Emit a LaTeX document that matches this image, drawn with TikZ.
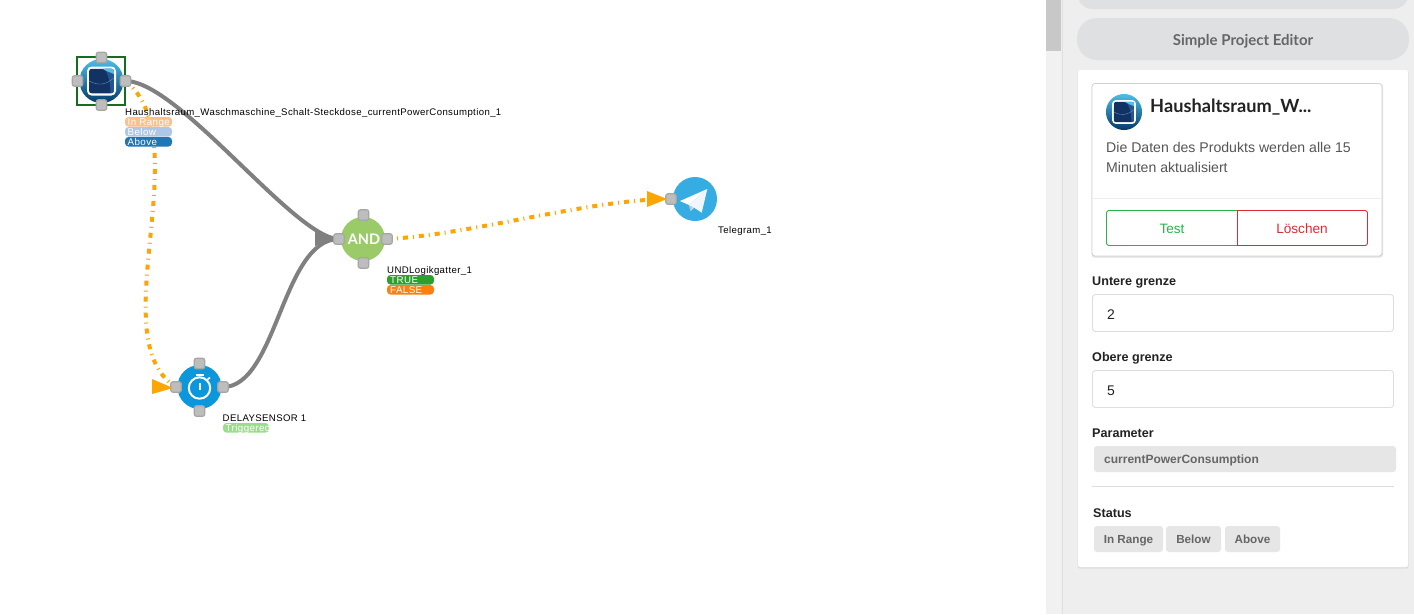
\documentclass[tikz,border=0pt]{standalone}
\usepackage{fontspec}
\setmainfont{Liberation Sans}
\newfontfamily\latofont{Lato}
\usetikzlibrary{arrows.meta}
\pgfdeclarelayer{bg}
\pgfdeclarelayer{edges}
\pgfsetlayers{bg,edges,main}
\definecolor{edgegray}{HTML}{808080}
\definecolor{edgeorange}{HTML}{FFA500}
\definecolor{portfill}{HTML}{BDBDBD}
\definecolor{portline}{HTML}{A6A6A6}
\definecolor{panelbg}{HTML}{EEEEEE}
\definecolor{pillbg}{HTML}{DFE0E2}
\definecolor{chipbg}{HTML}{E6E6E6}
\definecolor{chiptxt}{HTML}{666666}
\definecolor{okgreen}{HTML}{28B44A}
\definecolor{badred}{HTML}{DC2A36}
\definecolor{lineg}{HTML}{DEDEDE}
\definecolor{darktxt}{HTML}{222222}
\definecolor{bodytxt}{HTML}{555555}
\definecolor{catOrangeL}{HTML}{FDBF8B}
\definecolor{catBlueL}{HTML}{AEC7E8}
\definecolor{catBlue}{HTML}{1F77B4}
\definecolor{catGreenL}{HTML}{98DF8A}
\definecolor{catGreen}{HTML}{2CA02C}
\definecolor{catOrange}{HTML}{FF7F0E}
\definecolor{iconTop}{HTML}{4CBEE8}
\definecolor{iconMid}{HTML}{0B6A9E}
\definecolor{iconLow}{HTML}{043A6A}
\definecolor{iconInk}{HTML}{123264}
\definecolor{iconWedge}{HTML}{235590}
\definecolor{iconSky}{HTML}{55BEE6}
\tikzset{
  port/.style={rectangle,rounded corners=2.2pt,minimum size=10.5pt,inner sep=0pt,fill=portfill,draw=portline,line width=1.2pt},
  txt/.style={inner sep=0pt,anchor=base west},
  ctxt/.style={inner sep=0pt,anchor=base},
  tinylabel/.style={txt,font=\fontsize{9.6}{11}\selectfont\addfontfeature{LetterSpace=4},text=black},
  badgetxt/.style={txt,font=\fontsize{9.8}{11}\selectfont\addfontfeature{LetterSpace=4},text=white},
  fieldlabel/.style={txt,font=\fontsize{12.6}{15}\selectfont\bfseries,text=darktxt},
  fieldval/.style={txt,font=\fontsize{14}{16}\selectfont,text=darktxt},
  chiptext/.style={ctxt,font=\fontsize{11.7}{14}\selectfont\bfseries,text=chiptxt},
  grayedge/.style={draw=edgegray,line width=4pt},
  orangeedge/.style={draw=edgeorange,line width=4pt,dash pattern=on 5pt off 5pt on 1pt off 5pt},
  field/.style={draw=lineg,fill=white,line width=.9pt,rounded corners=3pt},
  chip/.style={fill=chipbg,rounded corners=3pt},
}
\newcommand{\prodicon}[4]{%
\begin{scope}[shift={(#1,#2)},scale=#3]
  \shade[top color=iconTop,middle color=iconMid,bottom color=iconLow] (0,0) circle (22);
  \fill[white,rounded corners=#4*4.5pt] (-14.5,-14.5) rectangle (14.5,14.5);
  \begin{scope}
    \clip[rounded corners=#4*2.5pt] (-12.3,-12.3) rectangle (12.3,12.3);
    \fill[iconInk] (-12.3,-12.3) rectangle (12.3,12.3);
    \fill[iconWedge] (-12.3,-12.3) -- (3,-12.3) .. controls (8,-4) and (9,4) .. (9,12.3) -- (12.3,12.3) -- (12.3,-12.3) -- cycle;
    \fill[iconInk] (-12.3,-6) .. controls (-4,-5) and (3,-3) .. (9,12.3) -- (-12.3,12.3) -- cycle;
    \fill[iconSky] (1,-12.3) -- (12.3,-12.3) -- (12.3,-7) .. controls (8,-9) and (4,-10) .. (1,-12.3) -- cycle;
    \draw[color={rgb,255:red,120;green,160;blue,200},line width=.3pt] (-12.3,0) .. controls (-3,5) and (4,4) .. (12.3,-3);
  \end{scope}
\end{scope}}
\begin{document}
\begin{tikzpicture}[x=1pt,y=-1pt]
\useasboundingbox (0,0) rectangle (1414,614);
% ---------- page regions
\begin{pgfonlayer}{bg}
\fill[white] (0,0) rectangle (1046,614);
\end{pgfonlayer}
\fill[color={rgb,255:red,241;green,241;blue,241}] (1046,0) rectangle (1061,614);
\fill[color={rgb,255:red,200;green,200;blue,200}] (1046,0) rectangle (1061,51);
\fill[panelbg] (1061,0) rectangle (1414,614);
\draw[color={rgb,255:red,224;green,224;blue,224},line width=1pt] (1062.5,0) -- (1062.5,614);
% ---------- sensor
\draw[color={rgb,255:red,20;green,110;blue,30},line width=1.4pt] (77,57) rectangle (125,105);
\prodicon{101.5}{81}{1}{1}
\node[port] (sT) at (101.5,57.5) {};
\node[port] (sL) at (77.5,81) {};
\node[port] (sR) at (125.5,81) {};
\node[port] (sB) at (101.5,105) {};
\node[tinylabel] (sLabel) at (125,115) {Haushaltsraum\_Waschmaschine\_Schalt-Steckdose\_currentPowerConsumption\_1};
\fill[catOrangeL,rounded corners=3.5pt] (125,117) rectangle (172,126.5);
\fill[catBlueL,rounded corners=3.5pt] (125,127) rectangle (172,136.5);
\fill[catBlue,rounded corners=3.5pt] (125,137) rectangle (172,146.5);
\node[badgetxt] (b1) at (127.5,125) {In Range};
\node[badgetxt] (b2) at (127.5,135) {Below};
\node[badgetxt] (b3) at (127.5,145) {Above};
% ---------- delay sensor
\fill[color={rgb,255:red,12;green,150;blue,220}] (199.5,387) circle (22);
\draw[white,line width=2pt] (199.5,388) circle (10.7);
\draw[white,line width=2pt] (195.5,374.5) -- (204,374.5);
\draw[white,line width=2pt] (199.5,383) -- (199.5,390);
\draw[white,line width=1.6pt] (207.5,379.5) -- (210,377.5);
\node[port] (dT) at (199.5,363.5) {};
\node[port] (dL) at (176,387) {};
\node[port] (dR) at (223,387) {};
\node[port] (dB) at (199.5,411) {};
\node[tinylabel] (dLabel) at (222.5,421) {DELAYSENSOR 1};
\fill[catGreenL,rounded corners=3.5pt] (223,423) rectangle (269,432.5);
\begin{scope}
\clip (223,420) rectangle (269,435);
\node[badgetxt] (b4) at (225.5,431) {Triggered};
\end{scope}
% ---------- AND gate
\fill[color={rgb,255:red,155;green,203;blue,105}] (363,239) circle (22);
\node[ctxt,font=\fontsize{14.5}{16}\selectfont\latofont\bfseries,text=white] (andT) at (364,244.5) {AND};
\node[port] (aT) at (363.5,215) {};
\node[port] (aL) at (339,239) {};
\node[port] (aR) at (387,239) {};
\node[port] (aB) at (363.5,263) {};
\node[tinylabel] (aLabel) at (387,273) {UNDLogikgatter\_1};
\fill[catGreen,rounded corners=3.5pt] (387,275) rectangle (434,284.5);
\fill[catOrange,rounded corners=3.5pt] (387,285) rectangle (434,294.5);
\node[badgetxt] (b5) at (390,283) {TRUE};
\node[badgetxt] (b6) at (390,293) {FALSE};
% ---------- telegram
\fill[color={rgb,255:red,53;green,172;blue,226}] (695,199) circle (22);
\fill[color={rgb,255:red,200;green,218;blue,234}] (689,205) -- (690.5,211) -- (694.5,207.5) -- cycle;
\fill[color={rgb,255:red,169;green,201;blue,221}] (689,205) -- (690.5,211) -- (692,207) -- cycle;
\fill[white] (707.3,189) -- (680,201) -- (689,205) -- cycle;
\fill[color={rgb,255:red,240;green,246;blue,252}] (707.3,189) -- (689,205) -- (694,207.5) -- (701.7,212.7) -- cycle;
\node[port] (tL) at (671,199) {};
\node[tinylabel] (tLabel) at (718,233) {Telegram\_1};
% ---------- connectors
\begin{pgfonlayer}{edges}
\draw[orangeedge] (sR.center) .. controls (200,140) and (100,340) .. (dL.center);
\draw[orangeedge] (aR.center) .. controls (470,235) and (590,199) .. (tL.center);
\draw[grayedge] (sR.center) .. controls (179,81) and (295,239) .. (aL.center);
\draw[grayedge] (dR.center) .. controls (277,387) and (282,239) .. (aL.center);
\fill[edgegray] ([shift={(-24,-7)}]aL.center) -- ([shift={(-4,0)}]aL.center) -- ([shift={(-24,7)}]aL.center) -- cycle;
\end{pgfonlayer}
\fill[edgeorange] ([shift={(-24,-8)}]dL.center) -- ([shift={(-3,1)}]dL.center) -- ([shift={(-24,7)}]dL.center) -- cycle;
\fill[edgeorange] ([shift={(-24,-8)}]tL.center) -- ([shift={(-4,0)}]tL.center) -- ([shift={(-24,8)}]tL.center) -- cycle;
% ---------- side panel
\fill[pillbg,rounded corners=16pt] (1077,-20) rectangle (1409,9);
\fill[pillbg,rounded corners=20pt] (1077,18) rectangle (1409,60);
\node[ctxt,font=\fontsize{15}{16}\selectfont\latofont\bfseries,text=chiptxt] (pTitle) at (1243,45) {Simple Project Editor};
\fill[color={rgb,255:red,222;green,222;blue,222},rounded corners=2pt] (1077.5,70.5) rectangle (1408.5,568.5);
\fill[white,rounded corners=2pt] (1078,70) rectangle (1408,567);
\fill[color={rgb,255:red,225;green,225;blue,225},rounded corners=3pt] (1091.5,84) rectangle (1383,257.5);
\draw[color={rgb,255:red,210;green,210;blue,210},fill=white,line width=.8pt,rounded corners=3pt] (1092,83.5) rectangle (1382,256);
\prodicon{1124}{112}{.82}{.82}
\node[txt,font=\fontsize{18.2}{22}\selectfont\latofont\bfseries,text=darktxt] (cTitle) at (1150,112) {Haushaltsraum\_W...};
\node[txt,font=\fontsize{14.1}{16}\selectfont,text=bodytxt] (cB1) at (1106,152) {Die Daten des Produkts werden alle 15};
\node[txt,font=\fontsize{14.1}{16}\selectfont,text=bodytxt] (cB2) at (1106,172) {Minuten aktualisiert};
\draw[color={rgb,255:red,238;green,238;blue,238},line width=.8pt] (1092,198.5) -- (1382,198.5);
\draw[badred,line width=.9pt,rounded corners=2.5pt] (1237.5,210.5) -- (1367.5,210.5) -- (1367.5,245.5) -- (1237.5,245.5);
\draw[okgreen,line width=.9pt,rounded corners=2.5pt] (1237.5,210.5) -- (1106.5,210.5) -- (1106.5,245.5) -- (1237.5,245.5);
\draw[badred,line width=.9pt] (1237.5,210) -- (1237.5,246);
\node[ctxt,font=\fontsize{13.6}{16}\selectfont,text=okgreen] (bTest) at (1172,233) {Test};
\node[ctxt,font=\fontsize{13.6}{16}\selectfont,text=badred] (bDel) at (1302,233) {Löschen};
\node[fieldlabel] (l1) at (1092,285) {Untere grenze};
\draw[field] (1092.5,294.5) rectangle (1393.5,331.5);
\node[fieldval] (v1) at (1107,319) {2};
\node[fieldlabel] (l2) at (1092,361) {Obere grenze};
\draw[field] (1092.5,370.5) rectangle (1393.5,407.5);
\node[fieldval] (v2) at (1107,395) {5};
\node[fieldlabel] (l3) at (1092,437) {Parameter};
\fill[chip] (1094,446) rectangle (1396,472);
\node[txt,font=\fontsize{12}{14}\selectfont\bfseries,text=chiptxt] (pVal) at (1104,463) {currentPowerConsumption};
\draw[lineg,line width=.9pt] (1092,486.5) -- (1394,486.5);
\node[fieldlabel] (l4) at (1093,517) {Status};
\fill[chip] (1094,526) rectangle (1163,552);
\fill[chip] (1166,526) rectangle (1221,552);
\fill[chip] (1225,526) rectangle (1280,552);
\node[chiptext] (c1) at (1128.5,543) {In Range};
\node[chiptext] (c2) at (1193.5,543) {Below};
\node[chiptext] (c3) at (1252.5,543) {Above};
\end{tikzpicture}
\end{document}
